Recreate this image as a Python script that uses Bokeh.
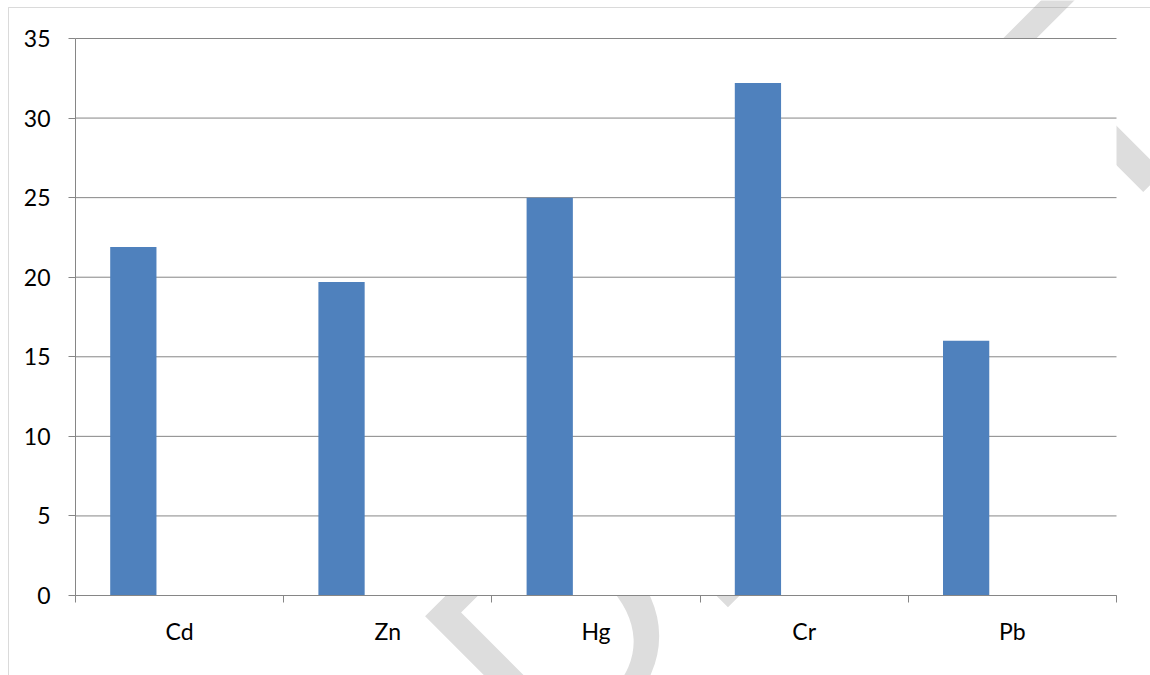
import math

from bokeh.plotting import figure
from bokeh.models import Range1d, FixedTicker, Label, BoxAnnotation
from bokeh.embed import file_html
from bokeh.resources import INLINE

# Heavy-metal values per element
metals = ["Cd", "Zn", "Hg", "Cr", "Pb"]
concentration = [21.9, 19.7, 25.0, 32.2, 16.0]
y_ticks = [0, 5, 10, 15, 20, 25, 30, 35]

AXIS_GRAY = "#868686"
BAR_BLUE = "#4F81BD"
FONT = "Lato"

W, H = 1150, 675
# Pixel box of the plotting area inside the page
AREA_L, AREA_R, AREA_T, AREA_B = 75, 1116, 38, 595
Y_MAX = 35
n = len(metals)

# Clustered-column geometry: three series slots per category with a 150 % gap,
# only the first slot carries data.
slot = 1 / 4.5
first_slot_centre = slot * 1.25
x_pos = [i + first_slot_centre for i in range(n)]
centres = [i + 0.5 for i in range(n)]
boundaries = list(range(n + 1))

# The frame covers the whole page so that the margin decorations can be drawn;
# the axes are pinned to the data origin.
px_x = (AREA_R - AREA_L) / n
px_y = (AREA_B - AREA_T) / Y_MAX
x_range = Range1d(-AREA_L / px_x, n + (W - AREA_R) / px_x)
y_range = Range1d(-(H - AREA_B) / px_y, Y_MAX + AREA_T / px_y)

p = figure(
    width=W, height=H,
    output_backend="svg", toolbar_location=None,
    x_range=x_range, y_range=y_range,
    min_border=0,
    background_fill_color="white", border_fill_color="white",
    outline_line_color=None,
)

# Faint watermark behind the chart; the plotting area is painted white over it
mark = Label(
    x=3.5, y=14.0, text="DRAFT", angle=math.radians(45),
    text_font="Lato", text_font_size="290px",
    text_color="#dddddd", text_align="center", text_baseline="middle",
    level="image",
)
p.add_layout(mark)
plot_area = BoxAnnotation(left=0, right=n, bottom=0, top=Y_MAX,
                          fill_color="white", fill_alpha=1.0, line_color=None,
                          level="image")
p.add_layout(plot_area)

# Horizontal gridlines limited to the plotting area
p.xgrid.visible = False
p.ygrid.visible = False
p.segment(x0=0, x1=n, y0=y_ticks, y1=y_ticks, line_color=AXIS_GRAY, line_width=1)

# Bars
p.vbar(x=x_pos, top=concentration, width=slot,
       fill_color=BAR_BLUE, line_color=None)

# Value axis
p.yaxis.fixed_location = 0
p.yaxis.bounds = (0, Y_MAX)
p.yaxis.ticker = FixedTicker(ticks=y_ticks)
p.yaxis.axis_line_color = AXIS_GRAY
p.yaxis.major_tick_line_color = AXIS_GRAY
p.yaxis.major_tick_in = 0
p.yaxis.major_tick_out = 7
p.yaxis.minor_tick_line_color = None
p.yaxis.major_label_standoff = 18
p.yaxis.major_label_text_font = FONT
p.yaxis.major_label_text_font_size = "23px"
p.yaxis.major_label_text_color = "black"

# Category axis: labels at category centres, tick marks at the boundaries
p.xaxis.fixed_location = 0
p.xaxis.bounds = (0, n)
p.xaxis.ticker = FixedTicker(ticks=centres, minor_ticks=boundaries)
p.xaxis.major_label_overrides = {c: m for c, m in zip(centres, metals)}
p.xaxis.axis_line_color = AXIS_GRAY
p.xaxis.major_tick_line_color = None
p.xaxis.major_tick_in = 0
p.xaxis.major_tick_out = 7
p.xaxis.minor_tick_line_color = AXIS_GRAY
p.xaxis.minor_tick_in = 0
p.xaxis.minor_tick_out = 7
p.xaxis.major_label_standoff = 14
p.xaxis.major_label_text_font = FONT
p.xaxis.major_label_text_font_size = "23px"
p.xaxis.major_label_text_color = "black"

# Chart-area border (its right and bottom edges lie outside the page)
frame_border = BoxAnnotation(
    left=-(AREA_L - 8) / px_x, right=n + 1, top=Y_MAX + (AREA_T - 7) / px_y,
    bottom=y_range.start - 5,
    fill_color=None, fill_alpha=0, line_color=AXIS_GRAY, line_width=1,
    level="overlay",
)
p.add_layout(frame_border)

open("out.html", "w").write(file_html(p, INLINE))
